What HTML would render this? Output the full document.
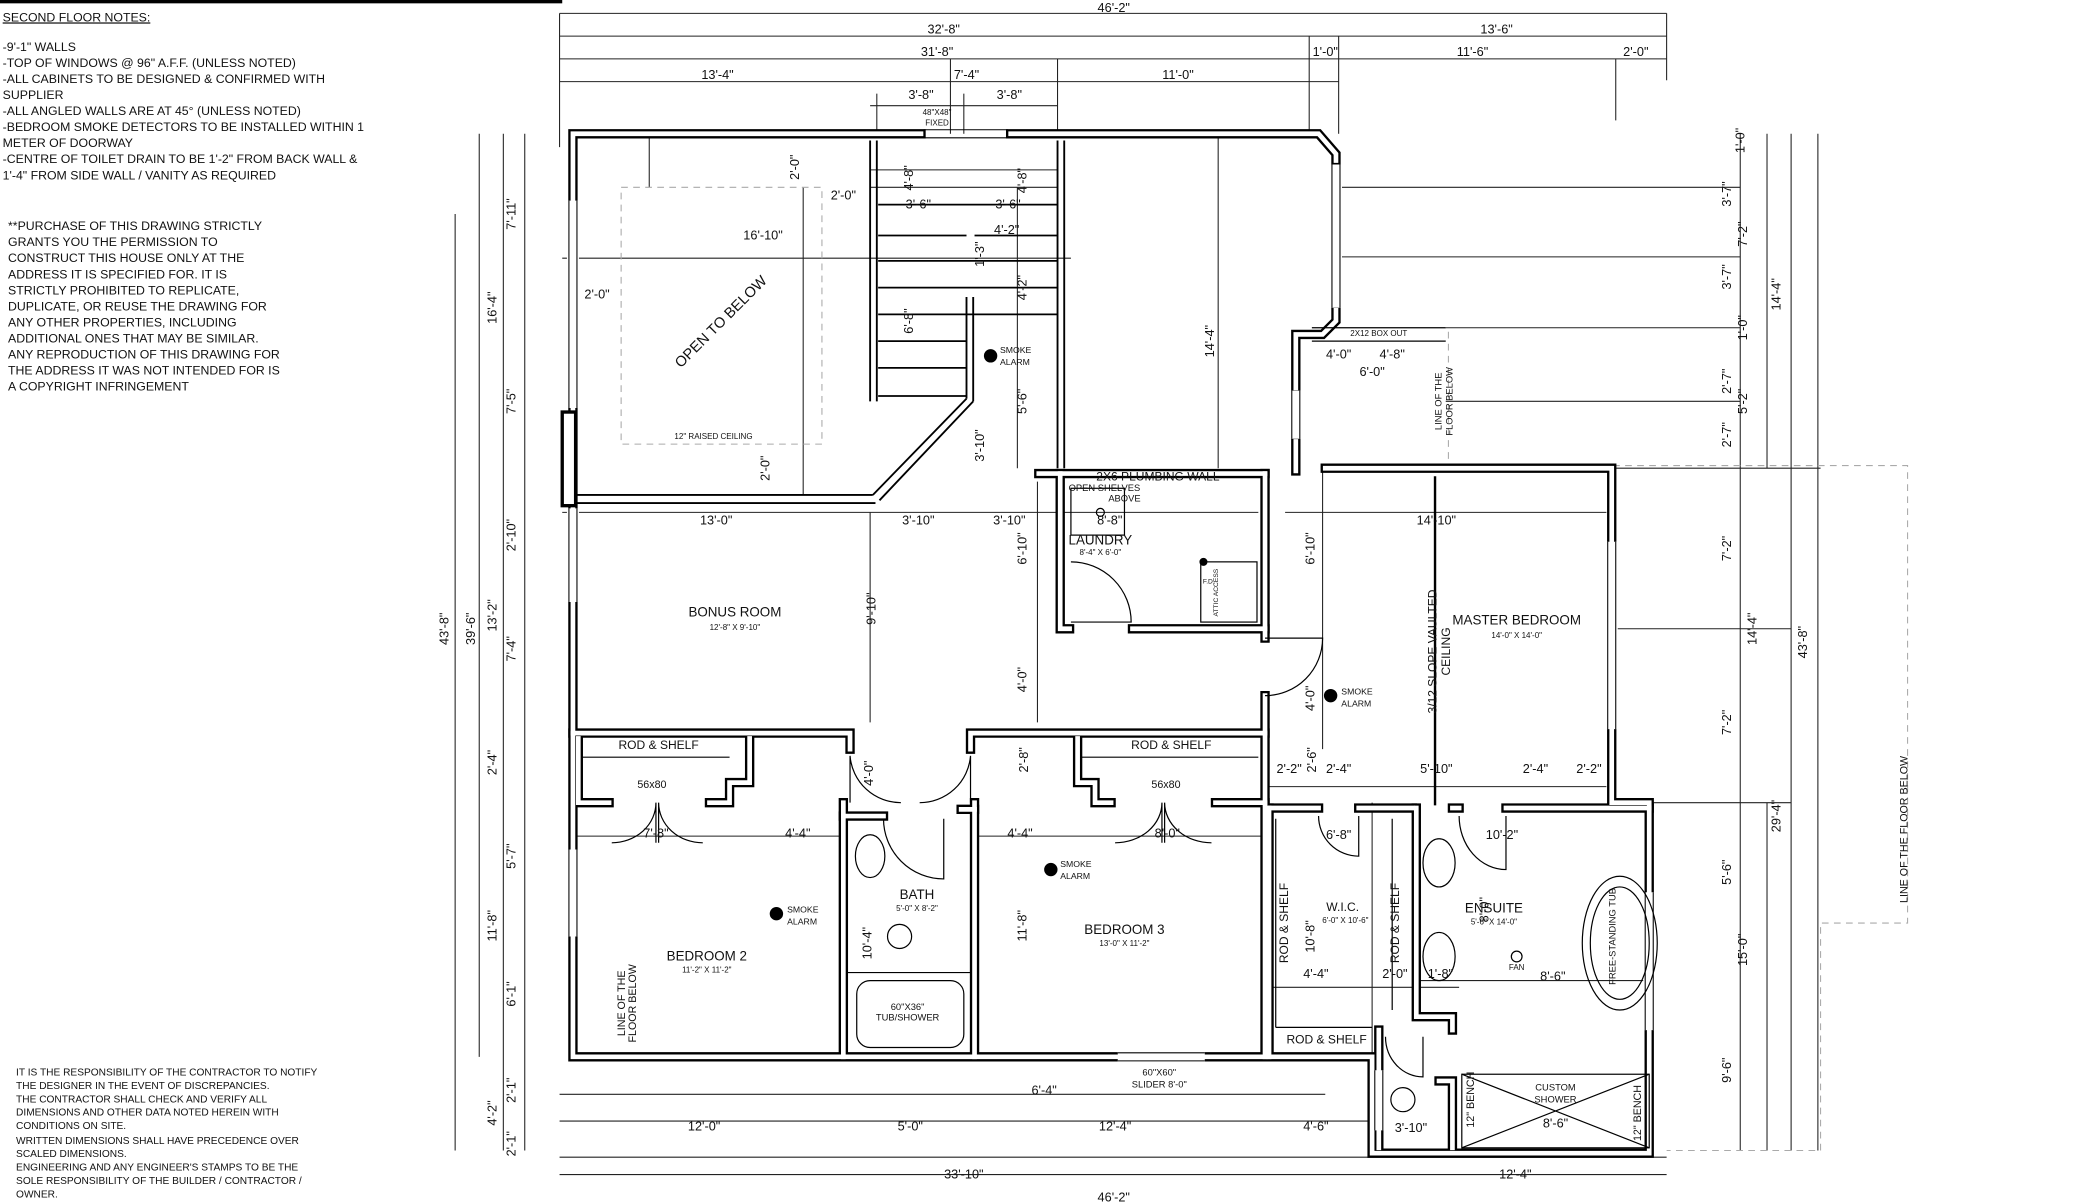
<!DOCTYPE html>
<html><head><meta charset="utf-8"><style>
html,body{margin:0;padding:0;background:#fff;}
svg{display:block;}
text{font-family:"Liberation Sans",sans-serif;fill:#111;}
</style></head><body>
<svg width="2099" height="1204" viewBox="0 0 1568 900" preserveAspectRatio="none" xmlns="http://www.w3.org/2000/svg">
<defs>
<g id="walls">
<polyline points="688,100 428,100 428,790 1025,790 1025,862 1232,862 1232,600 1204,600 1204,350 990,350"/>
<polyline points="755,100 985,100 998,115 998,120"/>
<polyline points="998,232 998,240 988,250 968,250 968,290"/>
<line x1="968" y1="330" x2="968" y2="352"/>
<line x1="776" y1="354" x2="945" y2="354"/>
<polyline points="792,354 792,470 799,470"/>
<polyline points="846,470 945,470"/>
<polyline points="945,354 945,477"/>
<polyline points="945,520 945,790"/>
<polyline points="428,548 635,548 635,560"/>
<polyline points="725,560 725,548 945,548"/>
<polyline points="630,600 630,790"/>
<polyline points="630,610 660,610"/>
<polyline points="728,600 728,790"/>
<polyline points="718,605 728,605"/>
<polyline points="948,604 985,604"/>
<polyline points="1015,604 1055,604"/>
<polyline points="1085,604 1090,604"/>
<polyline points="1125,604 1232,604"/>
<polyline points="1058,604 1058,760 1085,760 1085,770"/>
<polyline points="948,604 948,790"/>
<polyline points="1030,770 1030,858"/>
<polyline points="1075,808 1085,808 1085,858"/>
<polyline points="432,552 432,600 455,600"/>
<polyline points="530,600 545,600 545,585 560,585 560,552"/>
<polyline points="805,552 805,585 818,585 818,600 830,600"/>
<polyline points="908,600 945,600"/>
</g>
</defs>
<rect x="0" y="0" width="1568" height="900" fill="#fff"/>
<rect x="0" y="0" width="420" height="2.5" fill="#000"/>
<g font-size="9.2">
<text x="2" y="16" text-decoration="underline">SECOND FLOOR NOTES:</text>
<text x="2" y="38">-9'-1" WALLS</text>
<text x="2" y="50">-TOP OF WINDOWS @ 96" A.F.F. (UNLESS NOTED)</text>
<text x="2" y="62">-ALL CABINETS TO BE DESIGNED &amp; CONFIRMED WITH</text>
<text x="2" y="74">SUPPLIER</text>
<text x="2" y="86">-ALL ANGLED WALLS ARE AT 45° (UNLESS NOTED)</text>
<text x="2" y="98">-BEDROOM SMOKE DETECTORS TO BE INSTALLED WITHIN 1</text>
<text x="2" y="110">METER OF DOORWAY</text>
<text x="2" y="122">-CENTRE OF TOILET DRAIN TO BE 1'-2" FROM BACK WALL &amp;</text>
<text x="2" y="134">1'-4" FROM SIDE WALL / VANITY AS REQUIRED</text>
<text x="6" y="172">**PURCHASE OF THIS DRAWING STRICTLY</text>
<text x="6" y="184">GRANTS YOU THE PERMISSION TO</text>
<text x="6" y="196">CONSTRUCT THIS HOUSE ONLY AT THE</text>
<text x="6" y="208">ADDRESS IT IS SPECIFIED FOR. IT IS</text>
<text x="6" y="220">STRICTLY PROHIBITED TO REPLICATE,</text>
<text x="6" y="232">DUPLICATE, OR REUSE THE DRAWING FOR</text>
<text x="6" y="244">ANY OTHER PROPERTIES, INCLUDING</text>
<text x="6" y="256">ADDITIONAL ONES THAT MAY BE SIMILAR.</text>
<text x="6" y="268">ANY REPRODUCTION OF THIS DRAWING FOR</text>
<text x="6" y="280">THE ADDRESS IT WAS NOT INTENDED FOR IS</text>
<text x="6" y="292">A COPYRIGHT INFRINGEMENT</text>
</g>
<g font-size="7.6">
<text x="12" y="804">IT IS THE RESPONSIBILITY OF THE CONTRACTOR TO NOTIFY</text>
<text x="12" y="814">THE DESIGNER IN THE EVENT OF DISCREPANCIES.</text>
<text x="12" y="824">THE CONTRACTOR SHALL CHECK AND VERIFY ALL</text>
<text x="12" y="834">DIMENSIONS AND OTHER DATA NOTED HEREIN WITH</text>
<text x="12" y="844">CONDITIONS ON SITE.</text>
<text x="12" y="855">WRITTEN DIMENSIONS SHALL HAVE PRECEDENCE OVER</text>
<text x="12" y="865">SCALED DIMENSIONS.</text>
<text x="12" y="875">ENGINEERING AND ANY ENGINEER'S STAMPS TO BE THE</text>
<text x="12" y="885">SOLE RESPONSIBILITY OF THE BUILDER / CONTRACTOR /</text>
<text x="12" y="895">OWNER.</text>
</g>

<g stroke="#222" stroke-width="0.8" fill="none">
<line x1="418" y1="10" x2="1245" y2="10"/>
<line x1="418" y1="27" x2="1245" y2="27"/>
<line x1="418" y1="44" x2="1245" y2="44"/>
<line x1="418" y1="61" x2="1000" y2="61"/>
<line x1="650" y1="79" x2="790" y2="79"/>
<line x1="418" y1="10" x2="418" y2="110"/>
<line x1="1245" y1="10" x2="1245" y2="60"/>
<line x1="978" y1="27" x2="978" y2="100"/>
<line x1="1000" y1="27" x2="1000" y2="100"/>
<line x1="710" y1="44" x2="710" y2="100"/>
<line x1="790" y1="44" x2="790" y2="100"/>
<line x1="655" y1="70" x2="655" y2="100"/>
<line x1="720" y1="70" x2="720" y2="100"/>
<line x1="1207" y1="44" x2="1207" y2="90"/>
<line x1="418" y1="878" x2="1245" y2="878"/>
<line x1="418" y1="865" x2="1245" y2="865"/>
<line x1="418" y1="838" x2="1025" y2="838"/>
<line x1="418" y1="818" x2="990" y2="818"/>
<line x1="340" y1="160" x2="340" y2="860"/>
<line x1="358" y1="100" x2="358" y2="790"/>
<line x1="376" y1="100" x2="376" y2="860"/>
<line x1="392" y1="100" x2="392" y2="860"/>
<line x1="1300" y1="100" x2="1300" y2="350"/>
<line x1="1320" y1="100" x2="1320" y2="350"/>
<line x1="1338" y1="100" x2="1338" y2="860"/>
<line x1="1358" y1="100" x2="1358" y2="860"/>
<line x1="1300" y1="350" x2="1300" y2="860"/>
<line x1="1320" y1="600" x2="1320" y2="860"/>
<line x1="1002" y1="140" x2="1300" y2="140"/>
<line x1="1002" y1="192" x2="1300" y2="192"/>
<line x1="1080" y1="245" x2="1300" y2="245"/>
<line x1="1080" y1="300" x2="1300" y2="300"/>
<line x1="1205" y1="350" x2="1360" y2="350"/>
<line x1="1205" y1="470" x2="1338" y2="470"/>
<line x1="1230" y1="600" x2="1338" y2="600"/>
<line x1="420" y1="193" x2="800" y2="193"/>
<line x1="420" y1="383" x2="940" y2="383"/>
<line x1="650" y1="127" x2="790" y2="127"/>
<line x1="650" y1="140" x2="790" y2="140"/>
<line x1="960" y1="383" x2="1200" y2="383"/>
<line x1="948" y1="588" x2="1200" y2="588"/>
<line x1="430" y1="625" x2="630" y2="625"/>
<line x1="730" y1="625" x2="945" y2="625"/>
<line x1="945" y1="738" x2="1090" y2="738"/>
<line x1="1060" y1="733" x2="1235" y2="733"/>
<line x1="485" y1="103" x2="485" y2="140"/>
<line x1="600" y1="140" x2="600" y2="370"/>
<line x1="650" y1="383" x2="650" y2="540"/>
<line x1="760" y1="140" x2="760" y2="350"/>
<line x1="910" y1="100" x2="910" y2="350"/>
<line x1="775" y1="360" x2="775" y2="540"/>
<line x1="988" y1="350" x2="988" y2="560"/>
<line x1="1025" y1="600" x2="1025" y2="860"/>
</g>
<g stroke="#000" stroke-width="1.8"><line x1="1072" y1="356" x2="1072" y2="602"/></g>
<g stroke="#aaa" stroke-width="0.8" stroke-dasharray="5,4" fill="none">
<polyline points="1205,348 1425,348 1425,690 1360,690 1360,860 1245,860"/>
<rect x="464" y="140" width="150" height="192"/>
<line x1="1082" y1="248" x2="1082" y2="345"/>
</g>

<g fill="none" stroke-linejoin="miter" stroke-linecap="square">
<use href="#walls" stroke="#000" stroke-width="7"/>
<use href="#walls" stroke="#fff" stroke-width="3.5"/>
</g>
<g stroke="#fff" stroke-width="9">
<line x1="428" y1="150" x2="428" y2="305"/>
<line x1="428" y1="380" x2="428" y2="450"/>
<line x1="428" y1="635" x2="428" y2="700"/>
<line x1="998" y1="123" x2="998" y2="230"/>
<line x1="968" y1="292" x2="968" y2="328"/>
<line x1="1204" y1="405" x2="1204" y2="545"/>
<line x1="1232" y1="667" x2="1232" y2="770"/>
<line x1="1030" y1="800" x2="1030" y2="845"/>
<line x1="835" y1="790" x2="900" y2="790"/>
</g>
<g stroke="#000" stroke-width="0.8">
<line x1="425" y1="150" x2="425" y2="305"/><line x1="431" y1="150" x2="431" y2="305"/>
<line x1="425" y1="380" x2="425" y2="450"/><line x1="431" y1="380" x2="431" y2="450"/>
<line x1="425" y1="635" x2="425" y2="700"/><line x1="431" y1="635" x2="431" y2="700"/>
<line x1="995" y1="123" x2="995" y2="230"/><line x1="1001" y1="123" x2="1001" y2="230"/>
<line x1="965" y1="292" x2="965" y2="328"/><line x1="971" y1="292" x2="971" y2="328"/>
<line x1="1201" y1="405" x2="1201" y2="545"/><line x1="1207" y1="405" x2="1207" y2="545"/>
<line x1="1229" y1="667" x2="1229" y2="770"/><line x1="1235" y1="667" x2="1235" y2="770"/>
<line x1="1027" y1="800" x2="1027" y2="845"/><line x1="1033" y1="800" x2="1033" y2="845"/>
<line x1="690" y1="97" x2="753" y2="97"/><line x1="690" y1="103" x2="753" y2="103"/>
<line x1="835" y1="787" x2="900" y2="787"/><line x1="835" y1="793" x2="900" y2="793"/>
</g>
<rect x="420" y="308" width="10" height="70" fill="#fff" stroke="#000" stroke-width="2.5"/>
<g stroke="#000" stroke-width="1.4">
<line x1="430" y1="370" x2="652" y2="370"/><line x1="430" y1="376" x2="654" y2="376"/>
<line x1="652" y1="370" x2="722" y2="298"/><line x1="657" y1="374" x2="727" y2="300"/>
<line x1="722" y1="298" x2="722" y2="222"/><line x1="727" y1="300" x2="727" y2="222"/>
<line x1="650" y1="105" x2="650" y2="300"/><line x1="655" y1="105" x2="655" y2="300"/>
<line x1="790" y1="105" x2="790" y2="350"/><line x1="795" y1="105" x2="795" y2="350"/>
</g>
<g stroke="#000" stroke-width="1.3">
<line x1="656" y1="153" x2="790" y2="153"/>
<line x1="656" y1="176" x2="722" y2="176"/>
<line x1="728" y1="176" x2="790" y2="176"/>
<line x1="656" y1="195" x2="790" y2="195"/>
<line x1="656" y1="215" x2="790" y2="215"/>
<line x1="656" y1="235" x2="790" y2="235"/>
<line x1="656" y1="255" x2="722" y2="255"/>
<line x1="656" y1="275" x2="722" y2="275"/>
<line x1="656" y1="296" x2="722" y2="296"/>
</g>
<g stroke="#000" stroke-width="0.9" fill="none">
<path d="M490,630 L490,600 A33,30 0 0 1 457,630"/>
<path d="M492,630 L492,600 A33,30 0 0 0 525,630"/>
<path d="M868,630 L868,600 A35,30 0 0 1 833,630"/>
<path d="M870,630 L870,600 A35,30 0 0 0 905,630"/>
<path d="M635,565 A38,38 0 0 0 673,600 M635,565 L635,600"/>
<path d="M725,565 A38,38 0 0 1 687,600 M725,565 L725,600"/>
<path d="M660,612 A45,45 0 0 0 705,657 L705,612"/>
<path d="M800,420 A45,45 0 0 1 845,465 L800,465"/>
<path d="M945,520 A43,43 0 0 0 988,477 L945,477"/>
<path d="M985,610 A30,30 0 0 0 1015,640 L1015,610"/>
<path d="M1090,610 A35,40 0 0 0 1125,650 L1125,610"/>
<path d="M1035,775 A28,30 0 0 0 1063,805 L1063,775"/>
<rect x="1092" y="803" width="140" height="55"/>
<line x1="1092" y1="803" x2="1232" y2="858"/><line x1="1232" y1="803" x2="1092" y2="858"/>
<ellipse cx="1210" cy="705" rx="28" ry="50"/><ellipse cx="1210" cy="705" rx="22" ry="42"/>
<ellipse cx="1075" cy="645" rx="12" ry="18"/><ellipse cx="1075" cy="715" rx="12" ry="18"/>
<ellipse cx="650" cy="640" rx="11" ry="16"/>
<circle cx="672" cy="700" r="9"/>
<circle cx="1048" cy="822" r="9"/>
<rect x="640" y="733" width="80" height="50" rx="10"/>
<rect x="897" y="420" width="42" height="45"/>
<rect x="800" y="365" width="40" height="35"/>
<circle cx="822" cy="383" r="3"/>
<circle cx="1133" cy="715" r="4"/>
<line x1="434" y1="566" x2="545" y2="566"/>
<line x1="808" y1="566" x2="940" y2="566"/>
<line x1="953" y1="612" x2="953" y2="768"/>
<line x1="1040" y1="612" x2="1040" y2="755"/>
<line x1="953" y1="768" x2="1025" y2="768"/>
<line x1="980" y1="245" x2="1080" y2="245"/><line x1="980" y1="255" x2="1080" y2="255"/>
<line x1="632" y1="727" x2="726" y2="727"/>
</g>
<g fill="#000"><circle cx="740" cy="266" r="5"/><circle cx="580" cy="683" r="5"/><circle cx="785" cy="650" r="5"/><circle cx="994" cy="520" r="5"/><circle cx="899" cy="420" r="3"/></g>

<g font-size="9.5" text-anchor="middle">
<text x="832" y="9">46'-2"</text>
<text x="705" y="25">32'-8"</text>
<text x="1118" y="25">13'-6"</text>
<text x="700" y="42">31'-8"</text>
<text x="990" y="42">1'-0"</text>
<text x="1100" y="42">11'-6"</text>
<text x="1222" y="42">2'-0"</text>
<text x="536" y="59">13'-4"</text>
<text x="722" y="59">7'-4"</text>
<text x="880" y="59">11'-0"</text>
<text x="688" y="74">3'-8"</text>
<text x="754" y="74">3'-8"</text>
<text x="570" y="179">16'-10"</text>
<text x="630" y="149">2'-0"</text>
<text x="686" y="156">3'-6"</text>
<text x="753" y="156">3'-6"</text>
<text x="752" y="175">4'-2"</text>
<text x="446" y="223">2'-0"</text>
<text x="535" y="392">13'-0"</text>
<text x="686" y="392">3'-10"</text>
<text x="754" y="392">3'-10"</text>
<text x="1073" y="392">14'-10"</text>
<text x="829" y="392">8'-8"</text>
<text x="549" y="461" font-size="10">BONUS ROOM</text>
<text x="549" y="471" font-size="6">12'-8" X 9'-10"</text>
<text x="1133" y="467" font-size="10">MASTER BEDROOM</text>
<text x="1133" y="477" font-size="6">14'-0" X 14'-0"</text>
<text x="822" y="407" font-size="10">LAUNDRY</text>
<text x="822" y="415" font-size="6">8'-4" X 6'-0"</text>
<text x="865" y="359" font-size="9">2X6 PLUMBING WALL</text>
<text x="825" y="367" font-size="7">OPEN SHELVES</text>
<text x="840" y="375" font-size="7">ABOVE</text>
<text x="492" y="560" font-size="9">ROD &amp; SHELF</text>
<text x="875" y="560" font-size="9">ROD &amp; SHELF</text>
<text x="487" y="589" font-size="8">56x80</text>
<text x="871" y="589" font-size="8">56x80</text>
<text x="490" y="626">7'-8"</text>
<text x="872" y="626">8'-0"</text>
<text x="596" y="626">4'-4"</text>
<text x="762" y="626">4'-4"</text>
<text x="528" y="718" font-size="10">BEDROOM 2</text>
<text x="528" y="727" font-size="6">11'-2" X 11'-2"</text>
<text x="840" y="698" font-size="10">BEDROOM 3</text>
<text x="840" y="707" font-size="6">13'-0" X 11'-2"</text>
<text x="685" y="672" font-size="10">BATH</text>
<text x="685" y="681" font-size="6">5'-0" X 8'-2"</text>
<text x="678" y="755" font-size="7">60"X36"</text>
<text x="678" y="763" font-size="7">TUB/SHOWER</text>
<text x="1003" y="681" font-size="9">W.I.C.</text>
<text x="1005" y="690" font-size="6">6'-0" X 10'-6"</text>
<text x="1116" y="682" font-size="10">ENSUITE</text>
<text x="1116" y="691" font-size="6">5'-6" X 14'-0"</text>
<text x="1133" y="725" font-size="6">FAN</text>
<text x="1160" y="733">8'-6"</text>
<text x="991" y="780" font-size="9">ROD &amp; SHELF</text>
<text x="1162" y="815" font-size="7">CUSTOM</text>
<text x="1162" y="824" font-size="7">SHOWER</text>
<text x="1162" y="843">8'-6"</text>
<text x="1122" y="627">10'-2"</text>
<text x="1000" y="627">6'-8"</text>
<text x="963" y="578">2'-2"</text>
<text x="1000" y="578">2'-4"</text>
<text x="1073" y="578">5'-10"</text>
<text x="1147" y="578">2'-4"</text>
<text x="1187" y="578">2'-2"</text>
<text x="983" y="731">4'-4"</text>
<text x="1042" y="731">2'-0"</text>
<text x="1076" y="731">1'-8"</text>
<text x="1000" y="268">4'-0"</text>
<text x="1040" y="268">4'-8"</text>
<text x="1025" y="281">6'-0"</text>
<text x="780" y="818">6'-4"</text>
<text x="526" y="845">12'-0"</text>
<text x="680" y="845">5'-0"</text>
<text x="833" y="845">12'-4"</text>
<text x="983" y="845">4'-6"</text>
<text x="720" y="881">33'-10"</text>
<text x="1132" y="881">12'-4"</text>
<text x="832" y="898">46'-2"</text>
<text x="1054" y="846">3'-10"</text>
<text x="866" y="804" font-size="7">60"X60"</text>
<text x="866" y="813" font-size="7">SLIDER 8'-0"</text>
<text x="700" y="86" font-size="6">48"X48"</text>
<text x="700" y="94" font-size="6">FIXED</text>
<text x="533" y="328" font-size="6">12" RAISED CEILING</text>
<text x="1030" y="251" font-size="6">2X12 BOX OUT</text>
<text x="903" y="436" font-size="5">F.D.</text>
</g>
<g font-size="9.5" text-anchor="middle">
<text transform="translate(335,470) rotate(-90)">43'-8"</text>
<text transform="translate(355,470) rotate(-90)">39'-6"</text>
<text transform="translate(371,230) rotate(-90)">16'-4"</text>
<text transform="translate(385,160) rotate(-90)">7'-11"</text>
<text transform="translate(385,300) rotate(-90)">7'-5"</text>
<text transform="translate(385,400) rotate(-90)">2'-10"</text>
<text transform="translate(371,460) rotate(-90)">13'-2"</text>
<text transform="translate(385,485) rotate(-90)">7'-4"</text>
<text transform="translate(371,570) rotate(-90)">2'-4"</text>
<text transform="translate(385,640) rotate(-90)">5'-7"</text>
<text transform="translate(371,692) rotate(-90)">11'-8"</text>
<text transform="translate(385,743) rotate(-90)">6'-1"</text>
<text transform="translate(385,815) rotate(-90)">2'-1"</text>
<text transform="translate(371,832) rotate(-90)">4'-2"</text>
<text transform="translate(385,855) rotate(-90)">2'-1"</text>
<text transform="translate(597,125) rotate(-90)">2'-0"</text>
<text transform="translate(575,350) rotate(-90)">2'-0"</text>
<text transform="translate(682,133) rotate(-90)">4'-8"</text>
<text transform="translate(767,135) rotate(-90)">4'-8"</text>
<text transform="translate(682,240) rotate(-90)">6'-8"</text>
<text transform="translate(735,190) rotate(-90)">1'-3"</text>
<text transform="translate(767,215) rotate(-90)">4'-2"</text>
<text transform="translate(767,300) rotate(-90)">5'-6"</text>
<text transform="translate(735,333) rotate(-90)">3'-10"</text>
<text transform="translate(907,255) rotate(-90)">14'-4"</text>
<text transform="translate(654,455) rotate(-90)">9'-10"</text>
<text transform="translate(767,410) rotate(-90)">6'-10"</text>
<text transform="translate(767,508) rotate(-90)">4'-0"</text>
<text transform="translate(982,410) rotate(-90)">6'-10"</text>
<text transform="translate(982,522) rotate(-90)">4'-0"</text>
<text transform="translate(652,578) rotate(-90)">4'-0"</text>
<text transform="translate(768,568) rotate(-90)">2'-8"</text>
<text transform="translate(983,568) rotate(-90)">2'-6"</text>
<text transform="translate(767,692) rotate(-90)">11'-8"</text>
<text transform="translate(651,705) rotate(-90)">10'-4"</text>
<text transform="translate(982,700) rotate(-90)">10'-8"</text>
<text transform="translate(1112,680) rotate(-90)">8'-0"</text>
<text transform="translate(1073,487) rotate(-90)" font-size="9">3/12 SLOPE VAULTED</text>
<text transform="translate(1083,487) rotate(-90)" font-size="9">CEILING</text>
<text transform="translate(962,690) rotate(-90)" font-size="9">ROD &amp; SHELF</text>
<text transform="translate(1045,690) rotate(-90)" font-size="9">ROD &amp; SHELF</text>
<text transform="translate(1101,822) rotate(-90)" font-size="8">12" BENCH</text>
<text transform="translate(1226,832) rotate(-90)" font-size="8">12" BENCH</text>
<text transform="translate(1303,105) rotate(-90)">1'-0"</text>
<text transform="translate(1293,145) rotate(-90)">3'-7"</text>
<text transform="translate(1305,175) rotate(-90)">7'-2"</text>
<text transform="translate(1293,207) rotate(-90)">3'-7"</text>
<text transform="translate(1330,220) rotate(-90)">14'-4"</text>
<text transform="translate(1305,245) rotate(-90)">1'-0"</text>
<text transform="translate(1293,285) rotate(-90)">2'-7"</text>
<text transform="translate(1305,300) rotate(-90)">5'-2"</text>
<text transform="translate(1293,325) rotate(-90)">2'-7"</text>
<text transform="translate(1293,410) rotate(-90)">7'-2"</text>
<text transform="translate(1312,470) rotate(-90)">14'-4"</text>
<text transform="translate(1350,480) rotate(-90)">43'-8"</text>
<text transform="translate(1293,540) rotate(-90)">7'-2"</text>
<text transform="translate(1330,610) rotate(-90)">29'-4"</text>
<text transform="translate(1293,652) rotate(-90)">5'-6"</text>
<text transform="translate(1305,710) rotate(-90)">15'-0"</text>
<text transform="translate(1293,800) rotate(-90)">9'-6"</text>
<text transform="translate(1425,620) rotate(-90)" font-size="8">LINE OF THE FLOOR BELOW</text>
<text transform="translate(467,750) rotate(-90)" font-size="8">LINE OF THE</text>
<text transform="translate(475,750) rotate(-90)" font-size="8">FLOOR BELOW</text>
<text transform="translate(1077,300) rotate(-90)" font-size="7">LINE OF THE</text>
<text transform="translate(1085,300) rotate(-90)" font-size="7">FLOOR BELOW</text>
<text transform="translate(541,243) rotate(-45)" font-size="11">OPEN TO BELOW</text>
<text transform="translate(1207,700) rotate(-90)" font-size="7">FREE-STANDING TUB</text>
<text transform="translate(910,443) rotate(-90)" font-size="5">ATTIC ACCESS</text>
</g>
<g font-size="6.5">
<text x="747" y="264">SMOKE</text><text x="747" y="273">ALARM</text>
<text x="588" y="682">SMOKE</text><text x="588" y="691">ALARM</text>
<text x="792" y="648">SMOKE</text><text x="792" y="657">ALARM</text>
<text x="1002" y="519">SMOKE</text><text x="1002" y="528">ALARM</text>
</g>
</svg>
</body></html>
